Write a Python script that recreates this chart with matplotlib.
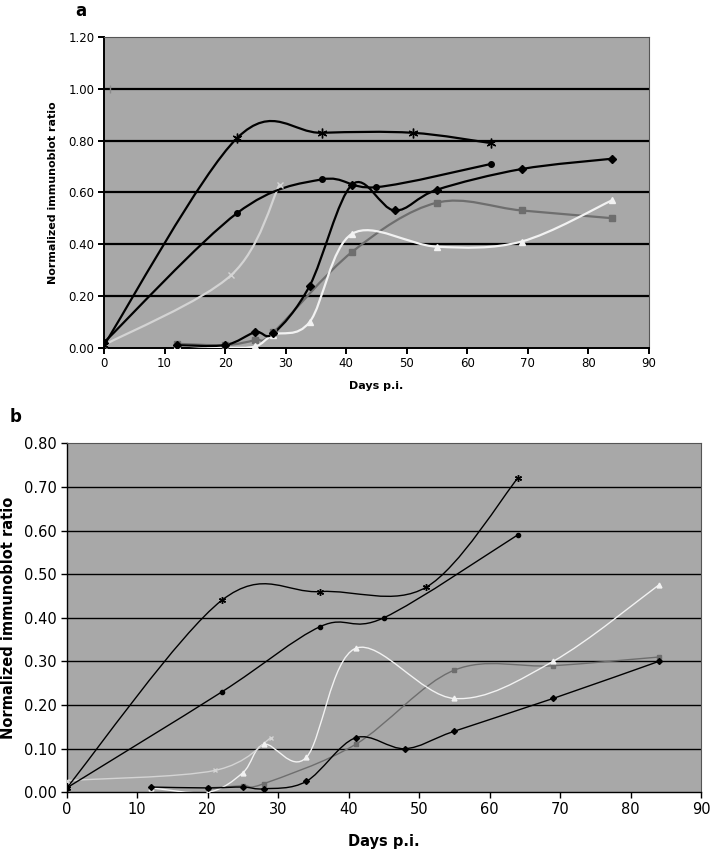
import numpy as np
import matplotlib
matplotlib.use('Agg')
import matplotlib.pyplot as plt
from matplotlib.path import Path
from matplotlib.patches import PathPatch

# Panel a data (days p.i., normalized immunoblot ratio)
star_a_days = [0, 22, 36, 51, 64]
star_a = [0.01, 0.81, 0.83, 0.83, 0.79]
circle_a_days = [0, 22, 36, 45, 64]
circle_a = [0.02, 0.52, 0.65, 0.62, 0.71]
diamond_a_days = [12, 20, 25, 28, 34, 41, 48, 55, 69, 84]
diamond_a = [0.01, 0.01, 0.06, 0.055, 0.24, 0.63, 0.53, 0.61, 0.69, 0.73]
square_a_days = [12, 20, 25, 28, 41, 55, 69, 84]
square_a = [0.015, 0.01, 0.03, 0.06, 0.37, 0.56, 0.53, 0.50]
triangle_a_days = [12, 20, 25, 28, 34, 41, 55, 69, 84]
triangle_a = [0.01, 0.0, 0.005, 0.05, 0.10, 0.44, 0.39, 0.41, 0.57]
cross_a_days = [0, 21, 29]
cross_a = [0.01, 0.28, 0.63]
ref_a_days = [1]
ref_a = [1.00]

# Panel b data
star_b_days = [0, 22, 36, 51, 64]
star_b = [0.01, 0.44, 0.46, 0.47, 0.72]
circle_b_days = [0, 22, 36, 45, 64]
circle_b = [0.01, 0.23, 0.38, 0.40, 0.59]
diamond_b_days = [12, 20, 25, 28, 34, 41, 48, 55, 69, 84]
diamond_b = [0.012, 0.01, 0.012, 0.008, 0.025, 0.125, 0.10, 0.14, 0.215, 0.30]
square_b_days = [20, 25, 28, 41, 55, 69, 84]
square_b = [0.01, 0.015, 0.02, 0.11, 0.28, 0.29, 0.31]
triangle_b_days = [12, 20, 25, 28, 34, 41, 55, 69, 84]
triangle_b = [0.01, 0.0, 0.045, 0.11, 0.08, 0.33, 0.215, 0.30, 0.475]
cross_b_days = [0, 21, 29]
cross_b = [0.027, 0.05, 0.125]

x_ticks = [0, 10, 20, 30, 40, 50, 60, 70, 80, 90]

BG = '#a8a8a8'


def smooth_path(xs, ys):
    """Excel-like smoothed line as cubic Bezier path (Catmull-Rom controls)."""
    p = np.column_stack((xs, ys)).astype(float)
    n = len(p)
    verts = [p[0]]
    codes = [Path.MOVETO]
    for i in range(n - 1):
        p0 = p[i - 1] if i > 0 else p[i]
        p3 = p[i + 2] if i + 2 < n else p[i + 1]
        c1 = p[i] + (p[i + 1] - p0) / 6.
        c2 = p[i + 1] - (p3 - p[i]) / 6.
        verts += [c1, c2, p[i + 1]]
        codes += [Path.CURVE4] * 3
    return Path(verts, codes)


def draw_series(ax, xs, ys, color, lw, marker, ms, mfc, mec, z=3):
    patch = PathPatch(smooth_path(xs, ys), facecolor='none', edgecolor=color,
                      lw=lw, zorder=z)
    ax.add_patch(patch)
    ax.plot(xs, ys, linestyle='', marker=marker, ms=ms, mfc=mfc, mec=mec,
            mew=1.0, zorder=z + 0.5)


def style_axes(ax, ymax, ystep, grid_lw, spine_lw, fs):
    ax.set_facecolor(BG)
    ax.set_xlim(0, 90)
    ax.set_ylim(0, ymax)
    ax.set_xticks(x_ticks)
    yt = np.round(np.arange(0, ymax + ystep / 2, ystep), 2)
    ax.set_yticks(yt)
    ax.set_yticklabels(['{0:.2f}'.format(v) for v in yt])
    for v in yt[1:-1]:
        ax.axhline(v, color='black', lw=grid_lw, zorder=1)
    for s in ['left', 'bottom']:
        ax.spines[s].set_color('black')
        ax.spines[s].set_linewidth(spine_lw)
    for s in ['top', 'right']:
        ax.spines[s].set_color('#555555')
        ax.spines[s].set_linewidth(0.8)
    ax.tick_params(axis='both', direction='out', length=4, width=spine_lw,
                   labelsize=fs, pad=3)


plt.rcParams['font.family'] = ['DejaVu Sans']
fig = plt.figure(figsize=(7.12, 8.49), dpi=100)

# ---------------- panel a
ax1 = fig.add_axes([0.1461, 0.5905, 0.765, 0.3659])
style_axes(ax1, 1.2, 0.2, 1.6, 1.4, 8.5)
lw_a = 1.6
draw_series(ax1, square_a_days, square_a, '#6e6e6e', lw_a, 's', 4, '#6e6e6e', '#6e6e6e')
draw_series(ax1, triangle_a_days, triangle_a, '#f2f2f2', lw_a, '^', 5, '#f2f2f2', '#f2f2f2')
draw_series(ax1, cross_a_days, cross_a, '#d4d4d4', lw_a, 'x', 5, '#d4d4d4', '#d4d4d4')
draw_series(ax1, diamond_a_days, diamond_a, 'black', lw_a, 'D', 4, 'black', 'black')
draw_series(ax1, circle_a_days, circle_a, 'black', lw_a, 'o', 4, 'black', 'black')
draw_series(ax1, star_a_days, star_a, 'black', lw_a, (6, 2, 0), 7, 'black', 'black')
ax1.plot(ref_a_days, ref_a, linestyle='', marker='|', ms=6, mec='#8a8a8a', mew=1.0)
ax1.set_ylabel('Normalized immunoblot ratio', fontsize=8, fontweight='bold', labelpad=7)
ax1.set_xlabel('Days p.i.', fontsize=8, fontweight='bold', labelpad=8)
fig.text(0.106, 0.987, 'a', fontsize=12, fontweight='bold', va='center', ha='left')

# ---------------- panel b
ax2 = fig.add_axes([0.0937, 0.0668, 0.8909, 0.4111])
style_axes(ax2, 0.8, 0.1, 1.0, 1.0, 10.5)
lw_b = 1.0
draw_series(ax2, square_b_days, square_b, '#6e6e6e', lw_b, 's', 3, '#6e6e6e', '#6e6e6e')
draw_series(ax2, triangle_b_days, triangle_b, '#f2f2f2', lw_b, '^', 3.5, '#f2f2f2', '#f2f2f2')
draw_series(ax2, cross_b_days, cross_b, '#d4d4d4', lw_b, 'x', 3.5, '#d4d4d4', '#d4d4d4')
draw_series(ax2, diamond_b_days, diamond_b, 'black', lw_b, 'D', 3, 'black', 'black')
draw_series(ax2, circle_b_days, circle_b, 'black', lw_b, 'o', 3, 'black', 'black')
draw_series(ax2, star_b_days, star_b, 'black', lw_b, (6, 2, 0), 5, 'black', 'black')
ax2.set_ylabel('Normalized immunoblot ratio', fontsize=10.5, fontweight='bold', labelpad=6)
ax2.set_xlabel('Days p.i.', fontsize=10.5, fontweight='bold', labelpad=12)
fig.text(0.014, 0.509, 'b', fontsize=12, fontweight='bold', va='center', ha='left')

fig.savefig('out.png', dpi=100, facecolor='white')
